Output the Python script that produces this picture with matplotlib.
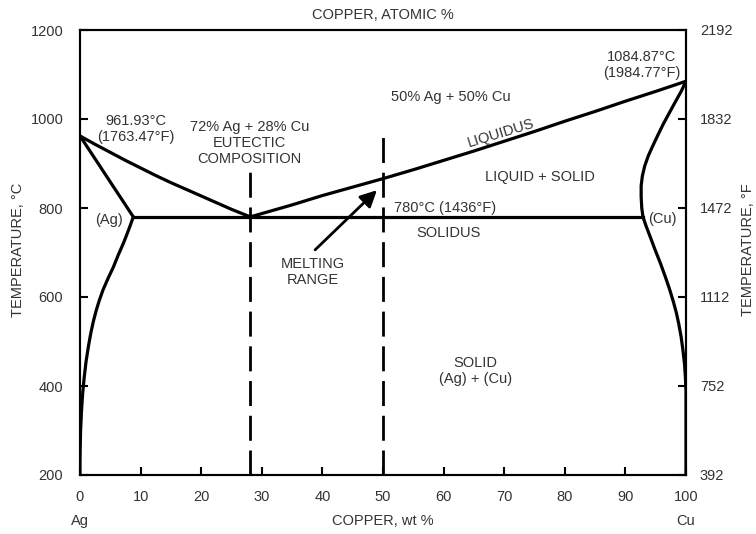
import numpy as np
import matplotlib.pyplot as plt

plt.rcParams['font.family'] = ['Liberation Sans', 'DejaVu Sans']
plt.rcParams['font.size'] = 10.5

txt = '#333333'

# Phase boundaries, (wt % Cu, deg C)
liq_left_x = [0, 2.5, 5, 7.5, 10, 12.5, 15, 17.5, 20, 22.5, 25, 28.1]
liq_left_t = [961.93, 943, 925, 907, 890, 873, 857, 842, 827, 812, 797, 780]

liq_right_x = [28.1, 35, 40, 45, 50, 55, 60, 65, 70, 75, 80, 85, 90, 95, 100]
liq_right_t = [780, 807, 828, 847, 866, 886, 907, 928, 950, 972, 995,
               1017, 1040, 1062, 1084.87]

ag_solidus_x = [0, 8.8]
ag_solidus_t = [961.93, 780]

ag_solvus_x = [8.8, 8.0, 7.2, 6.3, 5.5, 4.6, 3.8, 3.2, 2.7, 2.2, 1.8, 1.4,
               1.0, 0.7, 0.45, 0.25, 0.1, 0.03, 0.0, 0.0]
ag_solvus_t = [780, 750, 722, 694, 667, 641, 616, 593, 571, 545, 520, 490,
               455, 420, 385, 345, 300, 260, 230, 200]

cu_solidus_x = [100, 99.2, 98.3, 97.3, 96.3, 95.4, 94.6, 93.8, 93.2, 92.8,
                92.6, 92.6, 92.7, 92.9]
cu_solidus_t = [1084.87, 1062, 1040, 1015, 990, 965, 942, 918, 895, 872,
                850, 825, 800, 780]

cu_solvus_x = [92.9, 93.4, 94.1, 94.9, 95.8, 96.6, 97.3, 97.9, 98.4, 98.8,
               99.2, 99.5, 99.75, 99.9, 100, 100]
cu_solvus_t = [780, 760, 735, 706, 675, 645, 617, 590, 565, 540, 510, 480,
               450, 420, 390, 200]

eutectic_x = 28.1
eutectic_t = 780
alloy_x = 50

c_ticks = [200, 400, 600, 800, 1000, 1200]
f_ticks = [392, 752, 1112, 1472, 1832, 2192]
x_ticks = [0, 10, 20, 30, 40, 50, 60, 70, 80, 90, 100]

fig = plt.figure(figsize=(7.56, 5.34), dpi=100)
ax = fig.add_axes([80 / 756, 1 - 475 / 534, 606 / 756, 445 / 534])

lw = 2.3
for xs, ts in [(liq_left_x, liq_left_t), (liq_right_x, liq_right_t),
               (ag_solidus_x, ag_solidus_t), (ag_solvus_x, ag_solvus_t),
               (cu_solidus_x, cu_solidus_t), (cu_solvus_x, cu_solvus_t)]:
    ax.plot(xs, ts, color='black', lw=lw, solid_capstyle='round',
            solid_joinstyle='round')

# eutectic isotherm (solidus)
ax.plot([ag_solidus_x[1], cu_solidus_x[-1]], [eutectic_t, eutectic_t],
        color='black', lw=lw)

# composition markers
ax.plot([eutectic_x, eutectic_x], [200, 882], color='black', lw=2,
        dashes=(9, 3.5))
ax.plot([alloy_x, alloy_x], [200, 968], color='black', lw=2,
        dashes=(9, 3.5))

ax.annotate('', xy=(49, 840), xytext=(38.8, 706),
            arrowprops=dict(arrowstyle='-|>,head_length=0.5,head_width=0.25',
                            color='black', lw=2, mutation_scale=20,
                            shrinkA=0, shrinkB=0))

ax.set_xlim(0, 100)
ax.set_ylim(200, 1200)
ax.set_xticks(x_ticks)
ax.set_yticks(c_ticks)
ax.tick_params(direction='in', length=6, width=1.5, colors='black',
               labelcolor=txt, labelsize=10.5)
ax.tick_params(axis='x', pad=11)
ax.tick_params(axis='y', pad=12)
for s in ax.spines.values():
    s.set_linewidth(1.5)

ax2 = ax.twinx()
ax2.set_ylim(200 * 1.8 + 32, 1200 * 1.8 + 32)
ax2.set_yticks(f_ticks)
ax2.tick_params(direction='in', length=6, width=1.5, colors='black',
                labelcolor=txt, labelsize=10.5, pad=10)
for s in ax2.spines.values():
    s.set_linewidth(1.5)

kw = dict(ha='center', va='center', color=txt, fontsize=10.5,
          linespacing=1.2)
ax.text(9.2, 977, '961.93°C\n(1763.47°F)', **kw)
ax.text(28.0, 946, '72% Ag + 28% Cu\nEUTECTIC\nCOMPOSITION', **kw)
ax.text(61.2, 1049, '50% Ag + 50% Cu', **kw)
ax.text(92.7, 1121, '1084.87°C\n(1984.77°F)', **kw)
ax.text(69.5, 968, 'LIQUIDUS', rotation=17, **kw)
ax.text(75.9, 870, 'LIQUID + SOLID', **kw)
ax.text(60.3, 800, '780°C (1436°F)', **kw)
ax.text(60.8, 744, 'SOLIDUS', **kw)
ax.text(4.8, 773, '(Ag)', **kw)
ax.text(96.1, 775, '(Cu)', **kw)
ax.text(38.5, 656, 'MELTING\nRANGE', **kw)
ax.text(65.3, 434, 'SOLID\n(Ag) + (Cu)', **kw)

fkw = dict(ha='center', va='center', color=txt, fontsize=10.5)
fig.text(383 / 756, 1 - 15 / 534, 'COPPER, ATOMIC %', **fkw)
fig.text(383 / 756, 1 - 521 / 534, 'COPPER, wt %', **fkw)
fig.text(80 / 756, 1 - 521 / 534, 'Ag', **fkw)
fig.text(686 / 756, 1 - 521 / 534, 'Cu', **fkw)
fig.text(18 / 756, 1 - 250 / 534, 'TEMPERATURE, °C', rotation=90, **fkw)
fig.text(748 / 756, 1 - 250 / 534, 'TEMPERATURE, °F', rotation=90, **fkw)

fig.savefig('out.png', dpi=100)
